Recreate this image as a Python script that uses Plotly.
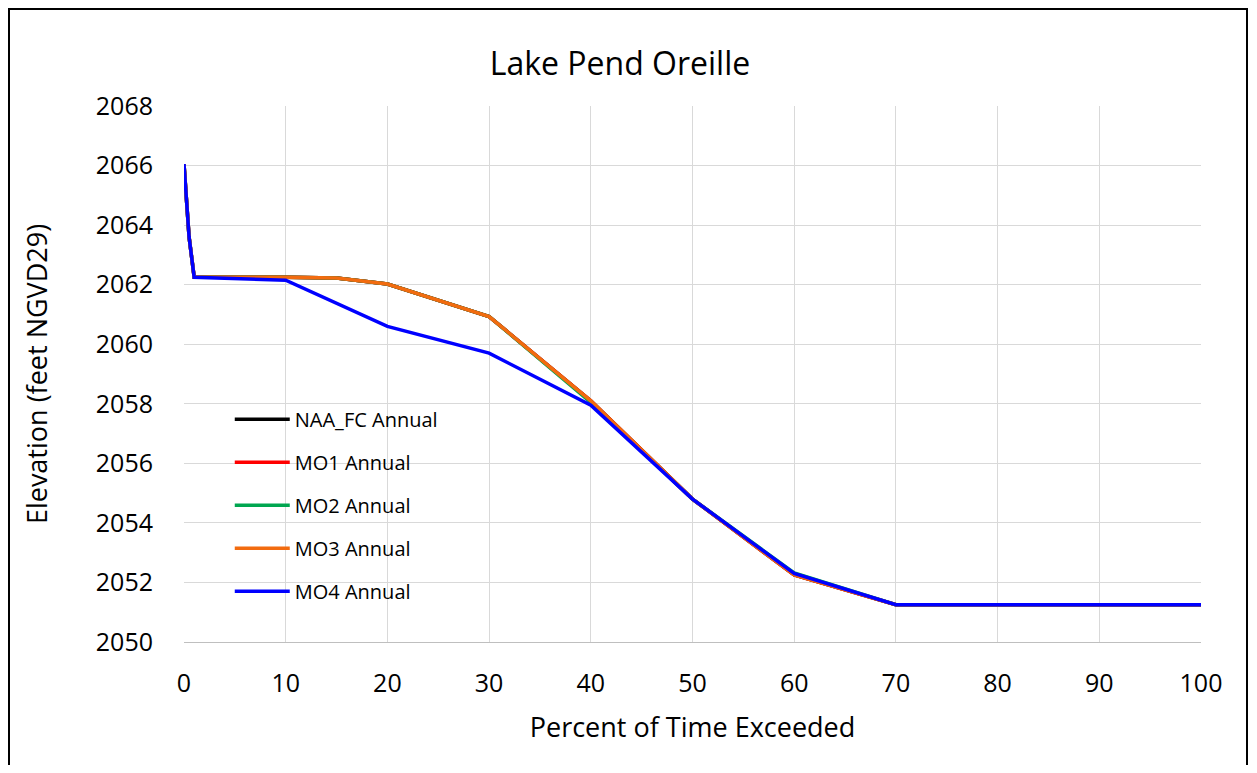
import plotly.graph_objects as go

# ---- data ----
pct_a = [0, 0.5, 1, 10, 15, 20, 30, 40, 50, 60, 70, 100]
naa_fc = [2066.05, 2063.6, 2062.25, 2062.25, 2062.22, 2062.02, 2060.93, 2058.1, 2054.8, 2052.25, 2051.25, 2051.25]
mo1 = [2066.05, 2063.6, 2062.25, 2062.25, 2062.22, 2062.02, 2060.93, 2058.1, 2054.8, 2052.25, 2051.25, 2051.25]
mo2 = [2066.05, 2063.6, 2062.25, 2062.25, 2062.22, 2062.02, 2060.93, 2058.05, 2054.8, 2052.32, 2051.25, 2051.25]
mo3 = [2066.05, 2063.6, 2062.25, 2062.25, 2062.22, 2062.02, 2060.93, 2058.1, 2054.8, 2052.25, 2051.25, 2051.25]
pct_b = [0, 0.5, 1, 10, 20, 30, 40, 50, 60, 70, 100]
mo4 = [2066.05, 2063.6, 2062.25, 2062.15, 2060.6, 2059.7, 2057.95, 2054.8, 2052.3, 2051.25, 2051.25]

names = ["NAA_FC Annual", "MO1 Annual", "MO2 Annual", "MO3 Annual", "MO4 Annual"]
colors = ["#000000", "#ff0000", "#00a650", "#f26b0f", "#0000ff"]
xs = [pct_a, pct_a, pct_a, pct_a, pct_b]
ys = [naa_fc, mo1, mo2, mo3, mo4]

x_ticks = [0, 10, 20, 30, 40, 50, 60, 70, 80, 90, 100]
y_ticks = [2050, 2052, 2054, 2056, 2058, 2060, 2062, 2064, 2066, 2068]

FONT = "Open Sans"

fig = go.Figure()
for n, c, x, y in zip(names, colors, xs, ys):
    fig.add_trace(go.Scatter(x=x, y=y, mode="lines", name=n, legendgroup=n,
                             line=dict(color=c, width=3.5)))

# page body adds an 8px offset; compensate so the figure lands where the reference is
OFF = 8
W, H = 1257 - 2 * OFF, 773 - 2 * OFF
ml, mt = 184 - OFF, 106 - OFF
mr = W - (1201 - OFF)
mb = H - (642 - OFF)
pw, ph = W - ml - mr, H - mt - mb

fig.update_layout(
    width=W, height=H,
    margin=dict(l=ml, r=mr, t=mt, b=mb),
    paper_bgcolor="white", plot_bgcolor="white",
    font=dict(family=FONT, color="#000000"),
    title=dict(text="Lake Pend Oreille", x=(620 - OFF) / W, xanchor="center",
               y=1 - (64 - OFF) / H, yanchor="middle", font=dict(size=32, family=FONT)),
    showlegend=True,
    legend=dict(x=0.045, y=0.452, xanchor="left", yanchor="top",
                bgcolor="rgba(0,0,0,0)", font=dict(size=20, family=FONT),
                tracegroupgap=14, traceorder="grouped", itemwidth=55),
    xaxis=dict(range=[0, 100], tickvals=x_ticks, showgrid=True, gridcolor="#d9d9d9",
               gridwidth=1, zeroline=False, showline=True, linecolor="#bfbfbf",
               ticks="", tickfont=dict(size=25, family=FONT), ticklabelstandoff=19,
               title=dict(text="Percent of Time Exceeded", font=dict(size=27, family=FONT),
                          standoff=20)),
    yaxis=dict(range=[2050, 2068], tickvals=y_ticks, showgrid=True, gridcolor="#d9d9d9",
               gridwidth=1, zeroline=False, showline=False,
               ticks="", tickfont=dict(size=25, family=FONT), ticklabelstandoff=30,
               title=dict(text="Elevation (feet NGVD29)", font=dict(size=27, family=FONT),
                          standoff=40)),
)

# outer frame
fig.add_shape(type="rect", xref="paper", yref="paper",
              x0=(1 - ml) / pw, x1=(1247 - OFF - ml) / pw,
              y0=(H - mb - 800) / ph, y1=(H - mb - 1) / ph,
              line=dict(color="#000000", width=2), fillcolor="rgba(0,0,0,0)", layer="below")

fig.write_html("out.html")
